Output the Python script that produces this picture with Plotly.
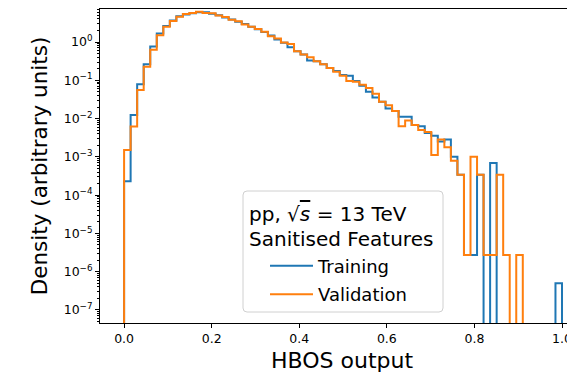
import numpy as np
import plotly.graph_objects as go

# ---- data ----
n_bins = 67
bin_lo, bin_hi = 0.0, 1.0

training = [
    2.3e-4, 1.24e-2, 7.85e-2, 0.263, 0.759, 1.66, 2.63, 3.63, 4.68, 5.25,
    5.62, 6.03, 6.03, 5.50, 5.01, 4.37, 3.89, 3.39, 2.95, 2.51,
    2.14, 1.82, 1.48, 1.17, 0.955, 0.724, 0.575, 0.468, 0.331, 0.316,
    0.263, 0.209, 0.174, 0.138, 0.132, 0.0955, 0.0724, 0.0501, 0.0355, 0.0275,
    0.0182, 0.0158, 0.0112, 0.0112, 6.76e-3, 6.31e-3, 4.17e-3, 3.55e-3, 2.51e-3, 2.82e-3,
    1.0e-3, 3.39e-4, 2.75e-6, 2.75e-6, 3.39e-4, 0, 6.92e-4, 0, 0, 0,
    0, 0, 0, 0, 0, 0, 5.0e-7,
]
validation = [
    1.51e-3, 6.17e-3, 5.58e-2, 0.226, 0.631, 1.51, 2.51, 3.55, 4.57, 5.37,
    5.75, 6.17, 5.75, 5.62, 4.90, 4.47, 3.80, 3.47, 2.88, 2.51,
    2.19, 1.86, 1.41, 1.23, 0.977, 0.891, 0.575, 0.468, 0.398, 0.316,
    0.263, 0.209, 0.166, 0.132, 0.0955, 0.0912, 0.0759, 0.0631, 0.0447, 0.0275,
    0.0224, 0.0158, 6.31e-3, 8.91e-3, 6.76e-3, 5.01e-3, 4.47e-3, 1.12e-3, 2.82e-3, 1.78e-3,
    7.94e-4, 3.39e-4, 2.75e-6, 1.0e-3, 3.39e-4, 2.75e-6, 2.75e-6, 3.39e-4, 2.75e-6, 0,
    2.75e-6, 0, 0, 0, 0, 0, 0,
]

x_ticks = [0.0, 0.2, 0.4, 0.6, 0.8, 1.0]
y_tick_exps = [-7, -6, -5, -4, -3, -2, -1, 0]

series_names = ["Training", "Validation"]
series_colors = ["#1f77b4", "#ff7f0e"]
legend_title_lines = [
    "pp, √<span style=\"text-decoration:overline\"><i>s</i></span> = 13 TeV",
    "Sanitised Features",
]
x_title = "HBOS output"
y_title = "Density (arbitrary units)"

# ---- layout geometry (pixels of the 567x375 page) ----
W, H = 567, 375
ML, MR, MT, MB = 100, 0, 9, 52
PW, PH = W - ML - MR, H - MT - MB


def px_to_paper(px, py):
    return (px - ML) / PW, (H - MB - py) / PH


# ---- build step outlines ----
edges = np.linspace(bin_lo, bin_hi, n_bins + 1)
FLOOR = 1e-12  # empty bins drop below the visible axis, as in matplotlib


def step_xy(vals):
    v = [val if val > 0 else FLOOR for val in vals]
    xs = [edges[0]] + list(edges)
    ys = [FLOOR] + v + [FLOOR]
    return xs, ys


fig = go.Figure()
legend_ids = ["legend", "legend2"]
for name, vals, col, lid in zip(series_names, [training, validation], series_colors, legend_ids):
    xs, ys = step_xy(vals)
    fig.add_trace(go.Scatter(
        x=xs, y=ys, mode="lines", name=name, legend=lid,
        line=dict(color=col, width=2, shape="hv"),
    ))

minor_vals = [m * 10.0 ** e for e in range(-8, 1) for m in range(2, 10)]
font_family = "DejaVu Sans"

# legend frame (rounded rectangle)
bx0, by0 = px_to_paper(243, 312)
bx1, by1 = px_to_paper(443, 191)
rx, ry = 4 / PW, 4 / PH
frame_path = (
    f"M {bx0+rx},{by0} L {bx1-rx},{by0} Q {bx1},{by0} {bx1},{by0+ry} "
    f"L {bx1},{by1-ry} Q {bx1},{by1} {bx1-rx},{by1} "
    f"L {bx0+rx},{by1} Q {bx0},{by1} {bx0},{by1-ry} "
    f"L {bx0},{by0+ry} Q {bx0},{by0} {bx0+rx},{by0} Z"
)
fig.add_shape(type="path", path=frame_path, xref="paper", yref="paper",
              fillcolor="white", line=dict(color="#d0d0d0", width=1), layer="above")

title_centers_py = [214, 239]
for txt, cy in zip(legend_title_lines, title_centers_py):
    ax, ay = px_to_paper(248, cy)
    fig.add_annotation(text=txt, x=ax, y=ay, xref="paper", yref="paper",
                       xanchor="left", yanchor="middle", showarrow=False,
                       borderpad=0, font=dict(size=20, family=font_family, color="black"))

# x-axis title (centred on the full, partly cropped axes, as in the reference)
tx, ty = px_to_paper(342, 360)
fig.add_annotation(text=x_title, x=tx, y=ty, xref="paper", yref="paper",
                   xanchor="center", yanchor="middle", showarrow=False,
                   font=dict(size=22, family=font_family, color="black"))

leg_common = dict(
    xanchor="left", yanchor="middle", bgcolor="rgba(0,0,0,0)", borderwidth=0,
    font=dict(size=18, family=font_family, color="black"), itemwidth=43,
)
l1x, l1y = px_to_paper(265, 266)
l2x, l2y = px_to_paper(265, 294.5)

fig.update_layout(
    width=W, height=H,
    margin=dict(l=ML, r=MR, t=MT, b=MB, autoexpand=False),
    paper_bgcolor="white", plot_bgcolor="white",
    font=dict(family=font_family, color="black", size=12),
    showlegend=True,
    legend=dict(x=l1x, y=l1y, **leg_common),
    legend2=dict(x=l2x, y=l2y, **leg_common),
    xaxis=dict(
        range=[-0.055, 1.0114], automargin=False,
        tickvals=x_ticks, ticktext=[f"{v:.1f}" for v in x_ticks],
        ticks="outside", ticklen=4, tickwidth=1, tickcolor="black",
        ticklabeloverflow="allow",
        showline=True, linecolor="black", linewidth=1, mirror=True,
        showgrid=False, zeroline=False,
        tickfont=dict(size=12.5),
    ),
    yaxis=dict(
        type="log", range=[-7.34, 0.862], automargin=False,
        tickvals=[10.0 ** e for e in y_tick_exps],
        ticktext=[f"10<sup>{'−' if e < 0 else ''}{abs(e)}</sup>" for e in y_tick_exps],
        ticks="outside", ticklen=4, tickwidth=1, tickcolor="black",
        minor=dict(tickvals=minor_vals, ticks="outside", ticklen=2, tickwidth=0.7,
                   tickcolor="black", showgrid=False),
        showline=True, linecolor="black", linewidth=1,
        showgrid=False, zeroline=False,
        tickfont=dict(size=12.5),
        title=dict(text=y_title, font=dict(size=21.5), standoff=10),
    ),
)

fig.write_html("out.html")
